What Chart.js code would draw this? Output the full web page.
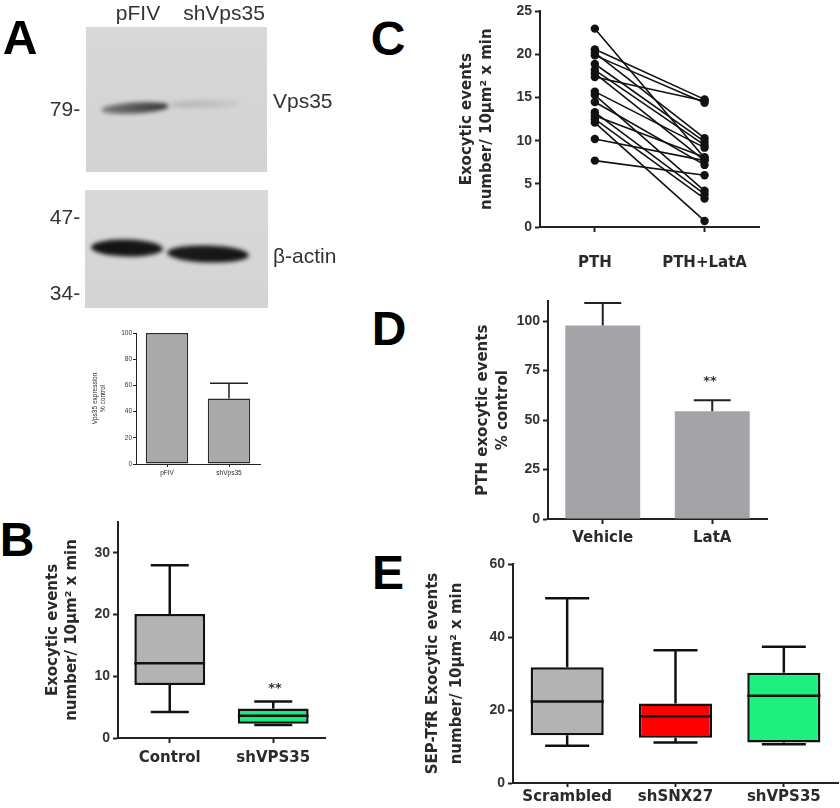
<!DOCTYPE html>
<html><head><meta charset="utf-8">
<script src="https://cdn.jsdelivr.net/npm/chart.js@4.4.0/dist/chart.umd.min.js"></script>
<style>
body{margin:0;background:#fff;}
#wrap{position:relative;width:840px;height:808px;overflow:hidden;background:#fff;}
canvas{position:absolute;}
.t{position:absolute;white-space:nowrap;line-height:1;color:#2a2a2a;transform:translate(-50%,-50%);}
.tl{position:absolute;white-space:nowrap;line-height:1;color:#2a2a2a;transform:translate(0,-50%);}
.letter{font-family:"Liberation Sans",Arial,sans-serif;font-weight:bold;font-size:48px;color:#000;}
.blot{font-family:"Liberation Sans",Arial,sans-serif;font-size:21px;color:#333;}
.star{font-family:"DejaVu Sans",sans-serif;font-weight:bold;font-size:13px;color:#333;}
</style></head><body><div id="wrap">
<canvas id="blot" width="340" height="320" style="left:0px;top:0px"></canvas>
<canvas id="cA" width="180" height="160" style="left:85px;top:325px"></canvas>
<canvas id="cB" width="295" height="290" style="left:35px;top:510px"></canvas>
<canvas id="cC" width="320" height="280" style="left:450px;top:0px"></canvas>
<canvas id="cD" width="300" height="260" style="left:470px;top:290px"></canvas>
<canvas id="cE" width="420" height="258" style="left:420px;top:550px"></canvas>
</div>
<script>
// ---------- DATA ----------
// Panel A (blot quantification)
const aCategories = ['pFIV', 'shVps35'];
const aValues = [100, 50];
const aErrors = [0, 11.6];
// Panel B (box plot)
const bCategories = ['Control', 'shVPS35'];
const bMin = [4.2, 2.1];
const bQ1 = [8.6, 2.3];
const bMedian = [12.1, 3.6];
const bQ3 = [20.1, 4.8];
const bMax = [28.0, 5.9];
// Panel C (paired points)
const cCategories = ['PTH', 'PTH+LatA'];
const cPTH  = [23.0, 20.6, 20.2, 19.9, 18.9, 18.2, 17.8, 17.4, 15.7, 15.3, 14.5, 13.3, 12.9, 12.5, 12.1, 10.2, 7.7];
const cLatA = [ 8.0, 14.8, 10.3, 14.4,  9.9,  9.5,  7.7, 14.6,  9.2,  4.2,  7.2,  3.8,  8.1,  3.3,  0.7,  7.7, 6.0];
// Panel D (bars with SEM)
const dCategories = ['Vehicle', 'LatA'];
const dValues = [97.8, 54.5];
const dErrors = [11.4, 5.5];
// Panel E (box plot)
const eCategories = ['Scrambled', 'shSNX27', 'shVPS35'];
const eMin = [10.2, 11.1, 10.6];
const eQ1 = [13.1, 12.4, 11.1];
const eMedian = [22.3, 18.3, 23.9];
const eQ3 = [31.7, 21.8, 30.2];
const eMax = [50.6, 36.4, 37.3];

// ---------- TEXT (HTML) ----------
const wrap = document.getElementById('wrap');
function txt(s, x, y, cls, left) {
  const d = document.createElement('div');
  d.className = (left ? 'tl ' : 't ') + cls;
  d.textContent = s;
  d.style.left = x + 'px'; d.style.top = y + 'px';
  wrap.appendChild(d);
}
txt('A', 20, 38, 'letter');
txt('B', 17, 540, 'letter');
txt('C', 388, 39, 'letter');
txt('D', 389, 329, 'letter');
txt('E', 388, 573, 'letter');
txt('pFIV', 138, 12, 'blot');
txt('shVps35', 224, 12, 'blot');
txt('79-', 65, 108, 'blot');
txt('47-', 65, 216, 'blot');
txt('34-', 65, 292, 'blot');
txt('Vps35', 273, 100, 'blot', true);
txt('β-actin', 273, 255, 'blot', true);
txt('**', 275, 687, 'star');
txt('**', 710, 380, 'star');

// ---------- BLOT (decorative image) ----------
(function(){
  const b = document.getElementById('blot').getContext('2d');
  function panel(x, y, w, h, c0, c1) {
    const g = b.createLinearGradient(0, y, 0, y + h);
    g.addColorStop(0, c0); g.addColorStop(1, c1);
    b.fillStyle = g; b.fillRect(x, y, w, h);
  }
  panel(86, 27, 181, 145, '#d8d8d8', '#d3d3d3');
  panel(85, 190, 183, 118, '#d9d9d9', '#d4d4d4');
  function band(clip, cx, cy, rx, ry, rot, c0, c1, blur) {
    b.save();
    b.beginPath(); b.rect(clip[0], clip[1], clip[2], clip[3]); b.clip();
    b.filter = 'blur(' + blur + 'px)';
    const g = b.createLinearGradient(cx - rx, 0, cx + rx, 0);
    g.addColorStop(0, c0); g.addColorStop(1, c1);
    b.fillStyle = g;
    b.beginPath(); b.ellipse(cx, cy, rx, ry, rot, 0, Math.PI * 2); b.fill();
    b.restore();
  }
  const top = [86, 27, 181, 145], bot = [85, 190, 183, 118];
  band(top, 135, 108, 34, 5.5, -0.06, '#7a7a7a', '#333333', 2);
  band(top, 205, 104, 35, 3.5, -0.02, '#afafaf', '#c6c6c6', 2.5);
  band(bot, 127, 248, 36, 8.5, 0.02, '#121212', '#181818', 2);
  band(bot, 208, 254, 41, 8.5, 0.03, '#1a1a1a', '#141414', 2);
})();

// ---------- CHART HELPERS ----------
const tickFontNum = {family: '"Liberation Sans", Arial, sans-serif', weight: 'bold', size: 14};
const labFont = {family: '"DejaVu Sans", sans-serif', weight: 'bold', size: 15};
function yAxis(o) {
  return {
    type: 'linear', min: o.min, max: o.max,
    ticks: {stepSize: o.step, includeBounds: false, font: o.tickFont || tickFontNum, color: '#333', padding: o.tpad == null ? 3 : o.tpad},
    grid: {display: true, drawOnChartArea: false, drawTicks: true, tickLength: o.tl || 5, tickColor: '#222', tickWidth: o.lw || 2, color: '#222'},
    border: {display: true, color: '#222', width: o.lw || 2},
    title: {display: true, text: o.title, color: '#2a2a2a',
      font: Object.assign({}, o.titleFont || labFont, {lineHeight: o.lh + 'px'}),
      padding: {top: o.tp, bottom: 0}},
    afterFit(s) { s.width = o.width; }
  };
}
function xAxis(o) {
  return {
    type: 'category', offset: true,
    ticks: {font: o.font || labFont, color: '#2a2a2a', padding: o.pad, maxRotation: 0, autoSkip: false},
    grid: {display: true, drawOnChartArea: false, offset: false, drawTicks: true, tickLength: o.tl || 5, tickColor: '#222', tickWidth: o.lw || 2, color: '#222'},
    border: {display: true, color: '#222', width: o.lw || 2},
    afterFit(s) { s.height = o.height; }
  };
}
const baseOpts = {responsive: false, animation: false, devicePixelRatio: 1,
  plugins: {legend: {display: false}, tooltip: {enabled: false}, title: {display: false}}};

function errorPlugin(values, errors, capW, lw) {
  return {id: 'err', afterDatasetsDraw(chart) {
    const ctx = chart.ctx, xs = chart.scales.x, ys = chart.scales.y;
    ctx.save(); ctx.strokeStyle = '#222'; ctx.lineWidth = lw; ctx.lineCap = 'butt';
    values.forEach((v, i) => {
      if (!errors[i]) return;
      const x = xs.getPixelForValue(i), y0 = ys.getPixelForValue(v), y1 = ys.getPixelForValue(v + errors[i]);
      ctx.beginPath(); ctx.moveTo(x, y0); ctx.lineTo(x, y1);
      ctx.moveTo(x - capW / 2, y1); ctx.lineTo(x + capW / 2, y1); ctx.stroke();
    });
    ctx.restore();
  }};
}
function boxPlugin(mins, meds, maxs, q1s, q3s, capW, lw) {
  return {id: 'box', afterDatasetsDraw(chart) {
    const ctx = chart.ctx, xs = chart.scales.x, ys = chart.scales.y;
    const meta = chart.getDatasetMeta(0);
    ctx.save(); ctx.strokeStyle = '#111'; ctx.lineWidth = lw;
    mins.forEach((mn, i) => {
      const x = xs.getPixelForValue(i), w = meta.data[i].width;
      const yMin = ys.getPixelForValue(mn), yMax = ys.getPixelForValue(maxs[i]);
      const yQ1 = ys.getPixelForValue(q1s[i]), yQ3 = ys.getPixelForValue(q3s[i]);
      const yMed = ys.getPixelForValue(meds[i]);
      ctx.beginPath();
      ctx.moveTo(x, yQ3); ctx.lineTo(x, yMax);
      ctx.moveTo(x - capW / 2, yMax); ctx.lineTo(x + capW / 2, yMax);
      ctx.moveTo(x, yQ1); ctx.lineTo(x, yMin);
      ctx.moveTo(x - capW / 2, yMin); ctx.lineTo(x + capW / 2, yMin);
      ctx.moveTo(x - w / 2, yMed); ctx.lineTo(x + w / 2, yMed);
      ctx.stroke();
    });
    ctx.restore();
  }};
}

// ---------- PANEL A small bar ----------
const tinyFont = {family: '"Liberation Sans", Arial, sans-serif', size: 6.5};
new Chart(document.getElementById('cA'), {
  type: 'bar',
  data: {labels: aCategories, datasets: [{data: aValues, backgroundColor: '#a9a9a9', borderColor: '#2a2a2a', borderWidth: 1.5, borderSkipped: false, barPercentage: 0.9, categoryPercentage: 0.76}]},
  options: Object.assign({}, baseOpts, {
    layout: {padding: {top: 8, right: 5, left: 0, bottom: 0}},
    scales: {
      y: yAxis({min: 0, max: 100, step: 20, width: 51, title: ['Vps35 expression', '% control'], lh: 8, tp: 6, tickFont: tinyFont, titleFont: tinyFont, tl: 3, lw: 1, tpad: 1}),
      x: xAxis({height: 21, pad: 2, font: tinyFont, tl: 3, lw: 1})
    }
  }),
  plugins: [errorPlugin(aValues, aErrors, 38, 1.5)]
});

// ---------- PANEL B box ----------
new Chart(document.getElementById('cB'), {
  type: 'bar',
  data: {labels: bCategories, datasets: [{data: bQ1.map((q, i) => [q, bQ3[i]]), backgroundColor: ['#b3b3b3', '#1de97b'], borderColor: '#111', borderWidth: 2.5, borderSkipped: false, barPercentage: 0.9, categoryPercentage: 0.76}]},
  options: Object.assign({}, baseOpts, {
    layout: {padding: {top: 12, right: 5, left: 0, bottom: 0}},
    scales: {
      y: yAxis({min: 0, max: 35, step: 10, width: 83, title: ['Exocytic events', 'number/ 10μm² x min'], lh: 19, tp: 8.5}),
      x: xAxis({height: 62, pad: 6})
    }
  }),
  plugins: [boxPlugin(bMin, bMedian, bMax, bQ1, bQ3, 38, 2.5)]
});

// ---------- PANEL C paired ----------
new Chart(document.getElementById('cC'), {
  type: 'line',
  data: {labels: cCategories, datasets: cPTH.map((v, i) => ({data: [v, cLatA[i]], borderColor: '#111', backgroundColor: '#111', borderWidth: 1.6, pointRadius: 4.2, pointBorderWidth: 0, tension: 0, clip: false}))},
  options: Object.assign({}, baseOpts, {
    layout: {padding: {top: 7, right: 2, left: 0, bottom: 0}},
    scales: {
      y: yAxis({min: 0, max: 25, step: 5, width: 90, title: ['Exocytic events', 'number/ 10μm² x min'], lh: 20, tp: 7}),
      x: xAxis({height: 53, pad: 22})
    }
  })
});

// ---------- PANEL D bars ----------
new Chart(document.getElementById('cD'), {
  type: 'bar',
  data: {labels: dCategories, datasets: [{data: dValues, backgroundColor: '#a3a3a8', borderWidth: 0, barPercentage: 0.9, categoryPercentage: 0.76}]},
  options: Object.assign({}, baseOpts, {
    layout: {padding: {top: 9, right: 3, left: 0, bottom: 0}},
    scales: {
      y: yAxis({min: 0, max: 110, step: 25, width: 78, title: ['PTH exocytic events', '% control'], lh: 20, tp: 3}),
      x: xAxis({height: 31, pad: 5})
    }
  }),
  plugins: [errorPlugin(dValues, dErrors, 37, 2)]
});

// ---------- PANEL E box ----------
new Chart(document.getElementById('cE'), {
  type: 'bar',
  data: {labels: eCategories, datasets: [{data: eQ1.map((q, i) => [q, eQ3[i]]), backgroundColor: ['#b3b3b3', '#ff0000', '#1ef07f'], borderColor: '#111', borderWidth: 2.5, borderSkipped: false, barPercentage: 0.9, categoryPercentage: 0.75}]},
  options: Object.assign({}, baseOpts, {
    layout: {padding: {top: 14, right: 2, left: 0, bottom: 0}},
    scales: {
      y: yAxis({min: 0, max: 60, step: 20, width: 93, title: ['SEP-TfR Exocytic events', 'number/ 10μm² x min'], lh: 24, tp: 1}),
      x: xAxis({height: 25, pad: 1, tl: 4})
    }
  }),
  plugins: [boxPlugin(eMin, eMedian, eMax, eQ1, eQ3, 44, 2.5)]
});
</script></body></html>
